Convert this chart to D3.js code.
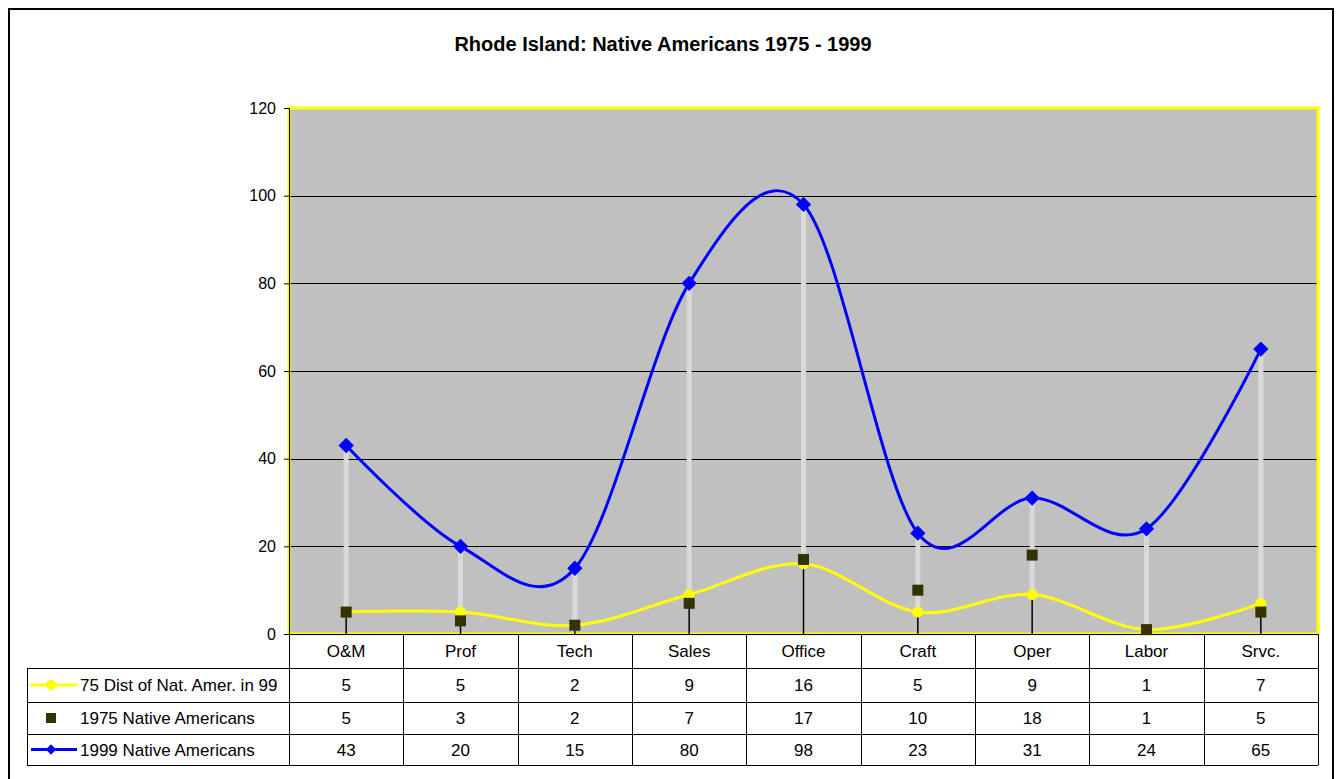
<!DOCTYPE html>
<html>
<head>
<meta charset="utf-8">
<script src="https://cdn.jsdelivr.net/npm/d3@7"></script>
<style>
  body { margin: 0; background: #fff; }
  svg { display: block; font-family: Arial, "Liberation Sans", sans-serif; }
</style>
</head>
<body>
<div id="chart"></div>
<script>
// categories and values
const categories = ['O&M', 'Prof', 'Tech', 'Sales', 'Office', 'Craft', 'Oper', 'Labor', 'Srvc.'];
const dist75 = [5, 5, 2, 9, 16, 5, 9, 1, 7];
const native1975 = [5, 3, 2, 7, 17, 10, 18, 1, 5];
const native1999 = [43, 20, 15, 80, 98, 23, 31, 24, 65];
const yTicks = [0, 20, 40, 60, 80, 100, 120];
const seriesNames = ['75 Dist of Nat. Amer. in 99', '1975 Native Americans', '1999 Native Americans'];

const width = 1338, height = 779;
const plot = { left: 289, right: 1318, top: 108, bottom: 634 };

const svg = d3.select('#chart').append('svg')
  .attr('width', width)
  .attr('height', height);

// outer chart border
svg.append('rect')
  .attr('x', 9).attr('y', 9)
  .attr('width', 1324).attr('height', 800)
  .attr('fill', 'none').attr('stroke', '#000').attr('stroke-width', 2);

svg.append('text')
  .attr('x', 663).attr('y', 51)
  .attr('text-anchor', 'middle')
  .style('font-size', '20px').style('font-weight', 'bold')
  .text('Rhode Island: Native Americans 1975 - 1999');

const x = d3.scaleBand().domain(categories).range([plot.left, plot.right]);
const y = d3.scaleLinear().domain([0, 120]).range([plot.bottom, plot.top]);
const cx = c => x(c) + x.bandwidth() / 2;

// plot area
svg.append('rect')
  .attr('x', plot.left).attr('y', plot.top)
  .attr('width', plot.right - plot.left).attr('height', plot.bottom - plot.top)
  .attr('fill', '#c0c0c0');

// gridlines
svg.append('g').selectAll('line')
  .data(yTicks.filter(t => t > 0 && t < 120))
  .join('line')
  .attr('x1', plot.left).attr('x2', plot.right)
  .attr('y1', d => Math.round(y(d)) + 0.5).attr('y2', d => Math.round(y(d)) + 0.5)
  .attr('stroke', '#000').attr('stroke-width', 1);

// yellow border
svg.append('rect')
  .attr('x', plot.left).attr('y', plot.top)
  .attr('width', plot.right - plot.left).attr('height', plot.bottom - plot.top)
  .attr('fill', 'none').attr('stroke', '#ffff00').attr('stroke-width', 3);

// y axis
const yAxis = d3.axisLeft(y).tickValues(yTicks).tickSize(5).tickPadding(8);
const ya = svg.append('g').attr('transform', `translate(${plot.left},0)`).call(yAxis);
ya.select('.domain').attr('stroke', '#000').attr('stroke-width', 1);
ya.selectAll('.tick line').attr('stroke', '#000');
ya.selectAll('.tick text').style('font-size', '16px').attr('fill', '#000')
  .attr('font-family', 'Arial, "Liberation Sans", sans-serif');

// drop lines (black) from axis to highest point
const idx = d3.range(categories.length);
svg.append('g').selectAll('line')
  .data(idx).join('line')
  .attr('x1', i => cx(categories[i])).attr('x2', i => cx(categories[i]))
  .attr('y1', y(0)).attr('y2', i => y(Math.max(dist75[i], native1975[i], native1999[i])))
  .attr('stroke', '#000').attr('stroke-width', 1.5);

// high-low lines
svg.append('g').selectAll('line')
  .data(idx).join('line')
  .attr('x1', i => cx(categories[i])).attr('x2', i => cx(categories[i]))
  .attr('y1', i => y(Math.min(dist75[i], native1975[i], native1999[i])))
  .attr('y2', i => y(Math.max(dist75[i], native1975[i], native1999[i])))
  .attr('stroke', '#d9d9d9').attr('stroke-width', 5);

// x axis baseline
svg.append('line')
  .attr('x1', plot.left).attr('x2', plot.right)
  .attr('y1', plot.bottom + 0.5).attr('y2', plot.bottom + 0.5)
  .attr('stroke', '#000');

const line = d3.line()
  .x((d, i) => cx(categories[i]))
  .y(d => y(d))
  .curve(d3.curveCatmullRom.alpha(0));

svg.append('path').datum(dist75)
  .attr('d', line).attr('fill', 'none')
  .attr('stroke', '#ffff00').attr('stroke-width', 3);

svg.append('path').datum(native1999)
  .attr('d', line).attr('fill', 'none')
  .attr('stroke', '#0000ff').attr('stroke-width', 3);

svg.append('g').selectAll('circle')
  .data(dist75).join('circle')
  .attr('cx', (d, i) => cx(categories[i])).attr('cy', d => y(d))
  .attr('r', 5.5).attr('fill', '#ffff00');

svg.append('g').selectAll('rect')
  .data(native1975).join('rect')
  .attr('x', (d, i) => cx(categories[i]) - 5.5).attr('y', d => y(d) - 5.5)
  .attr('width', 11).attr('height', 11)
  .attr('fill', '#333300');

const diamond = d3.symbol().type(d3.symbolDiamond2).size(150);
svg.append('g').selectAll('path')
  .data(native1999).join('path')
  .attr('transform', (d, i) => `translate(${cx(categories[i])},${y(d)})`)
  .attr('d', diamond).attr('fill', '#0000ff');

// data table
const rowTops = [634, 668, 702, 734, 765];
const tableLeft = 27;
const fs = '17px';
const tbl = svg.append('g');

// header row
categories.forEach(c => {
  tbl.append('text')
    .attr('x', cx(c)).attr('y', (rowTops[0] + rowTops[1]) / 2 + 6)
    .attr('text-anchor', 'middle').style('font-size', fs)
    .text(c);
});

// horizontal lines
[1, 2, 3, 4].forEach(k => {
  tbl.append('line').attr('x1', tableLeft).attr('x2', plot.right)
    .attr('y1', rowTops[k] + 0.5).attr('y2', rowTops[k] + 0.5).attr('stroke', '#000');
});
// vertical lines
x.domain().forEach(c => {
  tbl.append('line').attr('x1', Math.round(x(c)) + 0.5).attr('x2', Math.round(x(c)) + 0.5)
    .attr('y1', plot.bottom).attr('y2', rowTops[4]).attr('stroke', '#000');
});
tbl.append('line').attr('x1', plot.right + 0.5).attr('x2', plot.right + 0.5)
  .attr('y1', plot.bottom).attr('y2', rowTops[4]).attr('stroke', '#000');
tbl.append('line').attr('x1', tableLeft + 0.5).attr('x2', tableLeft + 0.5)
  .attr('y1', rowTops[1]).attr('y2', rowTops[4]).attr('stroke', '#000');

const rows = [dist75, native1975, native1999];
rows.forEach((vals, r) => {
  const mid = (rowTops[r + 1] + rowTops[r + 2]) / 2;
  vals.forEach((v, i) => {
    tbl.append('text')
      .attr('x', cx(categories[i])).attr('y', mid + 6)
      .attr('text-anchor', 'middle').style('font-size', fs)
      .text(v);
  });
  tbl.append('text')
    .attr('x', 80).attr('y', mid + 6)
    .style('font-size', fs)
    .text(seriesNames[r]);
});

// legend keys
const k1 = (rowTops[1] + rowTops[2]) / 2, k2 = (rowTops[2] + rowTops[3]) / 2, k3 = (rowTops[3] + rowTops[4]) / 2;
tbl.append('line').attr('x1', 31).attr('x2', 77).attr('y1', k1).attr('y2', k1)
  .attr('stroke', '#ffff00').attr('stroke-width', 3);
tbl.append('circle').attr('cx', 51).attr('cy', k1).attr('r', 5).attr('fill', '#ffff00');
tbl.append('rect').attr('x', 46).attr('y', k2 - 5).attr('width', 10).attr('height', 10).attr('fill', '#333300');
tbl.append('line').attr('x1', 31).attr('x2', 77).attr('y1', k3).attr('y2', k3)
  .attr('stroke', '#0000ff').attr('stroke-width', 3);
tbl.append('path').attr('transform', `translate(51,${k3})`)
  .attr('d', d3.symbol().type(d3.symbolDiamond2).size(70)).attr('fill', '#0000ff');
</script>
</body>
</html>
